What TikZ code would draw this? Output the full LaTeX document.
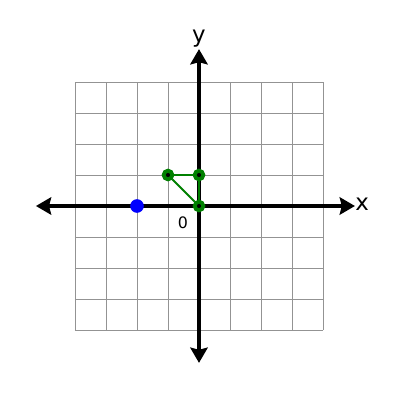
\documentclass[tikz,border=0pt]{standalone}
\usepackage{fontspec}
\setmainfont{DejaVu Sans}
\usetikzlibrary{arrows.meta}
\begin{document}
\begin{tikzpicture}[x=1cm,y=1cm,
  gridline/.style={draw=gray!85, line width=0.8pt},
  axis/.style={line width=2.8pt, -{Stealth[length=14pt,width=16pt,inset=2pt]}},
  gpt/.style={circle, fill=black, draw=green!50!black, line width=3.4pt, minimum size=7.8pt, inner sep=0pt},
  bpt/.style={circle, fill=blue, minimum size=12.5pt, inner sep=0pt},
  lbl/.style={font=\fontsize{21}{21}\selectfont, inner sep=0pt},
  tri/.style={draw=green!50!black, line width=1.8pt}]
\useasboundingbox (-199/31,-194/31) rectangle (201/31,206/31);
\fill[white] (-199/31,-194/31) rectangle (201/31,206/31);
\draw[gridline] (-4,-4) grid (4,4);
\coordinate (xl) at (-5.26,0);
\coordinate (xr) at (5.03,0);
\coordinate (yt) at (0,5.06);
\coordinate (yb) at (0,-5.06);
\coordinate (o) at (0,0);
\draw[axis] (o) -- (xr);
\draw[axis] (o) -- (xl);
\draw[axis] (o) -- (yt);
\draw[axis] (o) -- (yb);
\node[lbl] (xlab) at (5.26,0.07) {x};
\node[lbl] (ylab) at (0,5.4) {y};
\node[font=\fontsize{14.5}{14.5}\selectfont, inner sep=0pt] (zero) at (-0.52,-0.53) {0};
\node[bpt] (b) at (-2,0) {};
\node[gpt] (p1) at (-1,1) {};
\node[gpt] (p2) at (0,1) {};
\node[gpt] (p3) at (0,0) {};
\draw[tri] (p1) -- (p2) -- (p3) -- (p1);
\node[gpt] at (p1) {};
\node[gpt] at (p2) {};
\node[gpt] at (p3) {};
\end{tikzpicture}
\end{document}
